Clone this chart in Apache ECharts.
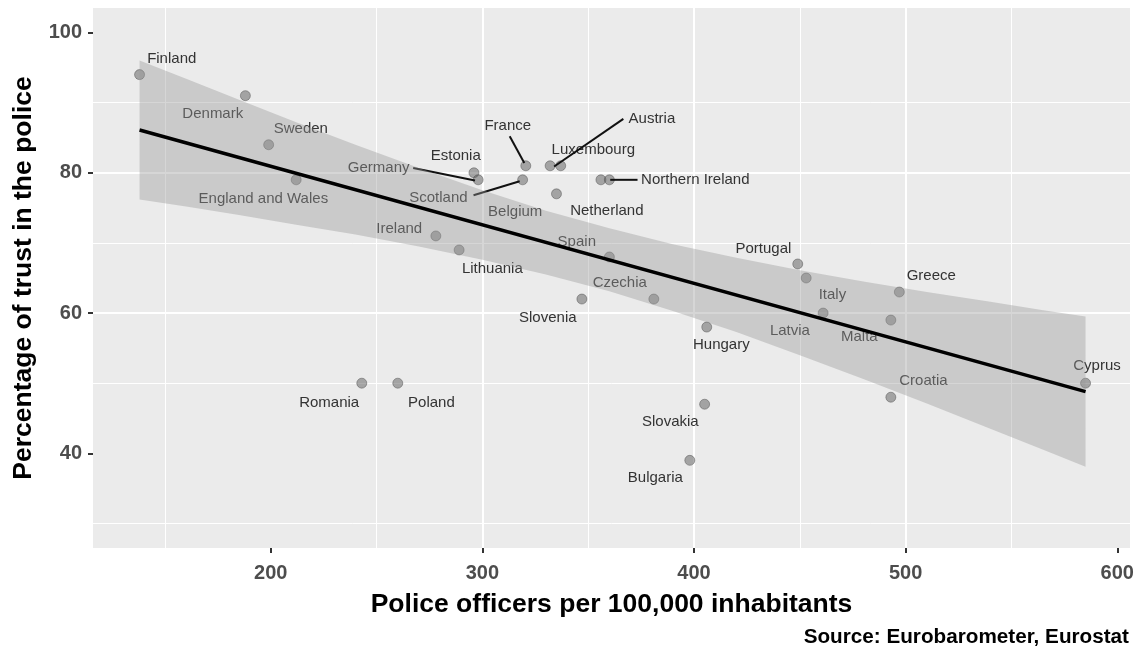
<!DOCTYPE html>
<html>
<head>
<meta charset="utf-8">
<title>Trust in the police vs police officers</title>
<script src="https://cdn.jsdelivr.net/npm/echarts@6/dist/echarts.min.js"></script>
<style>
  html, body { margin: 0; padding: 0; background: #fff; }
  #chart { width: 1141px; height: 653px; }
</style>
</head>
<body>
<div id="chart"></div>
<script>
// data
var countries = ['Finland', 'Denmark', 'Sweden', 'England and Wales', 'Estonia', 'Germany', 'Scotland',
  'France', 'Luxembourg', 'Austria', 'Belgium', 'Netherland', 'Northern Ireland', 'Ireland', 'Lithuania',
  'Spain', 'Slovenia', 'Czechia', 'Hungary', 'Slovakia', 'Bulgaria', 'Portugal', 'Latvia', 'Italy',
  'Greece', 'Malta', 'Croatia', 'Cyprus', 'Romania', 'Poland'];
var officers = [138, 188, 199, 212, 296, 298, 319, 320.5, 332, 337, 335, 356, 360, 278, 289,
  360, 347, 381, 406, 405, 398, 449, 453, 461, 497, 493, 493, 585, 243, 260];
var trust = [94, 91, 84, 79, 80, 79, 79, 81, 81, 81, 77, 79, 79, 71, 69,
  68, 62, 62, 58, 47, 39, 67, 65, 60, 63, 59, 48, 50, 50, 50];

// where the (repelled) labels sit, in data units
var labelX = [153.2, 172.6, 214.2, 196.5, 287.4, 251.0, 279.2, 312.0, 352.4, 380.1, 315.5, 358.8, 400.6, 260.7, 304.7,
  344.6, 330.9, 364.9, 412.9, 388.8, 381.7, 432.8, 445.3, 465.4, 512.1, 478.1, 508.4, 590.4, 227.6, 275.9];
var labelY = [96.2, 88.4, 86.2, 76.3, 82.4, 80.7, 76.4, 86.7, 83.3, 87.7, 74.4, 74.6, 79.0, 72.0, 66.3,
  70.1, 59.3, 64.3, 55.4, 44.5, 36.5, 69.1, 57.4, 62.6, 65.3, 56.6, 50.3, 52.5, 47.2, 47.2];

// label leader segments [x1, y1, x2, y2]
var segments = [
  [267.3, 80.7, 296.5, 78.9],   // Germany
  [295.8, 76.8, 317.6, 78.8],   // Scotland
  [312.9, 85.2, 319.8, 81.4],   // France
  [366.6, 87.7, 333.9, 80.9],   // Austria
  [360.4, 79.0, 373.3, 79.0]    // Northern Ireland
];

// linear fit and its confidence band
var fitX = [138, 585];
var fitY = [86.1, 48.8];
var bandX = [138, 160, 185, 212, 240, 270, 300, 330, 360, 390, 420, 450, 480, 510, 540, 565, 585];
var bandLow = [76.2, 75.2, 74.0, 72.6, 71.2, 69.5, 67.6, 65.5, 63.1, 60.3, 57.3, 54.0, 50.6, 47.1, 43.5, 40.5, 38.1];
var bandHigh = [96.0, 93.4, 90.4, 87.2, 84.0, 80.7, 77.5, 74.6, 72.1, 69.8, 67.9, 66.1, 64.5, 63.0, 61.6, 60.4, 59.5];

var xTicks = [200, 300, 400, 500, 600];
var yTicks = [40, 60, 80, 100];

var FONT = 'Liberation Sans, Arial, sans-serif';

var chart = echarts.init(document.getElementById('chart'), null, { renderer: 'canvas' });

var option = {
  animation: false,
  backgroundColor: '#ffffff',
  grid: {
    left: 93, right: 11, top: 8, bottom: 105,
    show: true, backgroundColor: '#ebebeb', borderWidth: 0,
    outerBoundsMode: 'none'
  },
  xAxis: {
    type: 'value', min: 116, max: 606, splitNumber: 5,
    axisLine: { show: false },
    axisTick: { show: true, length: 5, customValues: xTicks, lineStyle: { color: '#333', width: 2 } },
    axisLabel: { customValues: xTicks, margin: 15, fontSize: 20, fontWeight: 'bold', color: '#4d4d4d', fontFamily: FONT },
    splitLine: { show: true, showMinLine: false, showMaxLine: false, lineStyle: { color: '#ffffff', width: 2 } },
    minorTick: { show: false, splitNumber: 2 },
    minorSplitLine: { show: true, lineStyle: { color: '#ffffff', width: 1 } },
    name: 'Police officers per 100,000 inhabitants',
    nameLocation: 'middle', nameGap: 43,
    nameTextStyle: { fontSize: 26.5, fontWeight: 'bold', color: '#000', fontFamily: FONT }
  },
  yAxis: {
    type: 'value', min: 26.5, max: 103.5, splitNumber: 4,
    axisLine: { show: false },
    axisTick: { show: true, length: 5, customValues: yTicks, lineStyle: { color: '#333', width: 2 } },
    axisLabel: { customValues: yTicks, margin: 11, fontSize: 20, fontWeight: 'bold', color: '#4d4d4d', fontFamily: FONT },
    splitLine: { show: true, showMinLine: false, showMaxLine: false, lineStyle: { color: '#ffffff', width: 2 } },
    minorTick: { show: false, splitNumber: 2 },
    minorSplitLine: { show: true, lineStyle: { color: '#ffffff', width: 1 } },
    name: 'Percentage of trust in the police',
    nameLocation: 'middle', nameGap: 56,
    nameTextStyle: { fontSize: 26.5, fontWeight: 'bold', color: '#000', fontFamily: FONT }
  },
  graphic: [{
    type: 'text', right: 12, top: 627,
    style: { text: 'Source: Eurobarometer, Eurostat', font: 'bold 20.7px ' + FONT, fill: '#000' }
  }],
  series: [
    {
      type: 'scatter', z: 2,
      symbolSize: 10,
      itemStyle: { color: 'rgba(90,90,90,0.62)', borderColor: 'rgba(60,60,60,0.5)', borderWidth: 1 },
      data: officers.map(function (x, i) { return [x, trust[i], countries[i]]; })
    },
    {
      type: 'custom', z: 3, silent: true,
      renderItem: function (params, api) {
        var p = api.coord([api.value(0), api.value(1)]);
        return {
          type: 'text',
          style: {
            text: countries[params.dataIndex], x: p[0], y: p[1],
            align: 'center', verticalAlign: 'middle',
            font: '15px ' + FONT, fill: '#333'
          }
        };
      },
      data: labelX.map(function (x, i) { return [x, labelY[i]]; })
    },
    {
      type: 'custom', z: 3, silent: true,
      renderItem: function (params, api) {
        var a = api.coord([api.value(0), api.value(1)]);
        var b = api.coord([api.value(2), api.value(3)]);
        return {
          type: 'line',
          shape: { x1: a[0], y1: a[1], x2: b[0], y2: b[1] },
          style: { stroke: '#111', lineWidth: 2 }
        };
      },
      data: segments
    },
    {
      type: 'custom', z: 4, silent: true,
      renderItem: function (params, api) {
        if (params.dataIndex !== 0) return null;
        var pts = [];
        for (var i = 0; i < bandX.length; i++) pts.push(api.coord([bandX[i], bandHigh[i]]));
        for (var j = bandX.length - 1; j >= 0; j--) pts.push(api.coord([bandX[j], bandLow[j]]));
        return {
          type: 'polygon',
          shape: { points: pts },
          style: { fill: 'rgba(153,153,153,0.4)' }
        };
      },
      data: bandX.map(function (x, i) { return [x, bandLow[i], bandHigh[i]]; })
    },
    {
      type: 'line', z: 5, silent: true,
      symbol: 'none',
      lineStyle: { color: '#000', width: 3.5 },
      data: fitX.map(function (x, i) { return [x, fitY[i]]; })
    }
  ]
};

chart.setOption(option);
</script>
</body>
</html>
